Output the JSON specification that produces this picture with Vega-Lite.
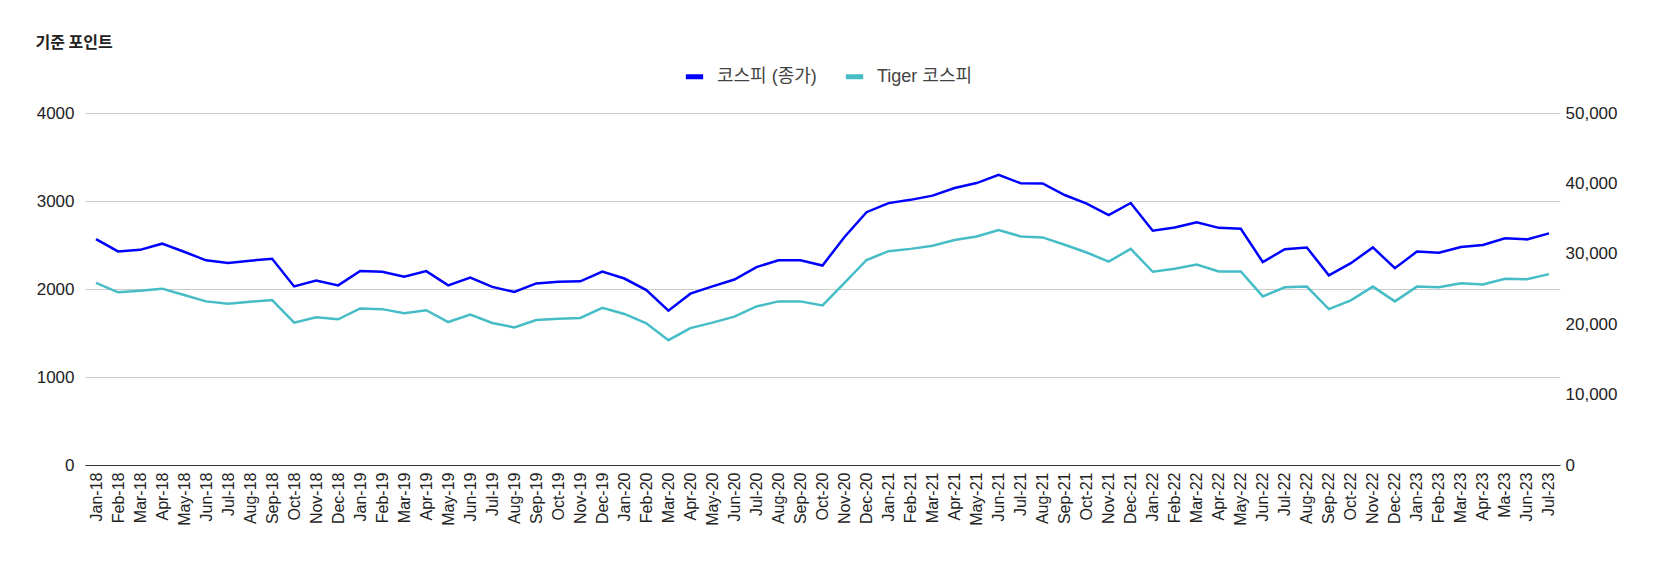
{
  "$schema": "https://vega.github.io/schema/vega-lite/v6.json",
  "width": 1475,
  "height": 352,
  "autosize": {"type": "none"},
  "padding": {"left": 85, "top": 113, "right": 98, "bottom": 106},
  "background": "white",
  "config": {
    "view": {"stroke": null},
    "font": "Liberation Sans, Arial, Noto Sans CJK KR"
  },
  "data": {
    "values": [
      {"month": "Jan-18", "kospi": 2566, "tiger": 25870},
      {"month": "Feb-18", "kospi": 2427, "tiger": 24530},
      {"month": "Mar-18", "kospi": 2445, "tiger": 24760},
      {"month": "Apr-18", "kospi": 2515, "tiger": 25050},
      {"month": "May-18", "kospi": 2423, "tiger": 24140},
      {"month": "Jun-18", "kospi": 2326, "tiger": 23240},
      {"month": "Jul-18", "kospi": 2295, "tiger": 22900},
      {"month": "Aug-18", "kospi": 2322, "tiger": 23180},
      {"month": "Sep-18", "kospi": 2343, "tiger": 23430},
      {"month": "Oct-18", "kospi": 2029, "tiger": 20220},
      {"month": "Nov-18", "kospi": 2096, "tiger": 20990},
      {"month": "Dec-18", "kospi": 2041, "tiger": 20700},
      {"month": "Jan-19", "kospi": 2204, "tiger": 22230},
      {"month": "Feb-19", "kospi": 2195, "tiger": 22140},
      {"month": "Mar-19", "kospi": 2140, "tiger": 21560},
      {"month": "Apr-19", "kospi": 2203, "tiger": 21990},
      {"month": "May-19", "kospi": 2041, "tiger": 20310},
      {"month": "Jun-19", "kospi": 2130, "tiger": 21370},
      {"month": "Jul-19", "kospi": 2024, "tiger": 20170},
      {"month": "Aug-19", "kospi": 1967, "tiger": 19550},
      {"month": "Sep-19", "kospi": 2063, "tiger": 20600},
      {"month": "Oct-19", "kospi": 2083, "tiger": 20790},
      {"month": "Nov-19", "kospi": 2087, "tiger": 20890},
      {"month": "Dec-19", "kospi": 2197, "tiger": 22330},
      {"month": "Jan-20", "kospi": 2119, "tiger": 21460},
      {"month": "Feb-20", "kospi": 1987, "tiger": 20120},
      {"month": "Mar-20", "kospi": 1754, "tiger": 17730},
      {"month": "Apr-20", "kospi": 1947, "tiger": 19450},
      {"month": "May-20", "kospi": 2030, "tiger": 20220},
      {"month": "Jun-20", "kospi": 2108, "tiger": 21080},
      {"month": "Jul-20", "kospi": 2249, "tiger": 22520},
      {"month": "Aug-20", "kospi": 2326, "tiger": 23240},
      {"month": "Sep-20", "kospi": 2327, "tiger": 23240},
      {"month": "Oct-20", "kospi": 2267, "tiger": 22660},
      {"month": "Nov-20", "kospi": 2591, "tiger": 25870},
      {"month": "Dec-20", "kospi": 2873, "tiger": 29120},
      {"month": "Jan-21", "kospi": 2976, "tiger": 30370},
      {"month": "Feb-21", "kospi": 3013, "tiger": 30700},
      {"month": "Mar-21", "kospi": 3061, "tiger": 31140},
      {"month": "Apr-21", "kospi": 3148, "tiger": 31950},
      {"month": "May-21", "kospi": 3204, "tiger": 32470},
      {"month": "Jun-21", "kospi": 3297, "tiger": 33390},
      {"month": "Jul-21", "kospi": 3202, "tiger": 32470},
      {"month": "Aug-21", "kospi": 3199, "tiger": 32330},
      {"month": "Sep-21", "kospi": 3068, "tiger": 31280},
      {"month": "Oct-21", "kospi": 2970, "tiger": 30180},
      {"month": "Nov-21", "kospi": 2839, "tiger": 28890},
      {"month": "Dec-21", "kospi": 2977, "tiger": 30700},
      {"month": "Jan-22", "kospi": 2663, "tiger": 27450},
      {"month": "Feb-22", "kospi": 2699, "tiger": 27880},
      {"month": "Mar-22", "kospi": 2757, "tiger": 28460},
      {"month": "Apr-22", "kospi": 2695, "tiger": 27500},
      {"month": "May-22", "kospi": 2685, "tiger": 27500},
      {"month": "Jun-22", "kospi": 2306, "tiger": 23950},
      {"month": "Jul-22", "kospi": 2452, "tiger": 25250},
      {"month": "Aug-22", "kospi": 2472, "tiger": 25340},
      {"month": "Sep-22", "kospi": 2155, "tiger": 22140},
      {"month": "Oct-22", "kospi": 2293, "tiger": 23380},
      {"month": "Nov-22", "kospi": 2473, "tiger": 25340},
      {"month": "Dec-22", "kospi": 2236, "tiger": 23240},
      {"month": "Jan-23", "kospi": 2425, "tiger": 25340},
      {"month": "Feb-23", "kospi": 2413, "tiger": 25250},
      {"month": "Mar-23", "kospi": 2477, "tiger": 25820},
      {"month": "Apr-23", "kospi": 2501, "tiger": 25630},
      {"month": "Ma-23", "kospi": 2577, "tiger": 26440},
      {"month": "Jun-23", "kospi": 2564, "tiger": 26390},
      {"month": "Jul-23", "kospi": 2632, "tiger": 27110}
    ]
  },
  "encoding": {
    "x": {
      "field": "month",
      "type": "ordinal",
      "sort": null,
      "scale": {"type": "point", "padding": 0.5},
      "axis": {
        "title": null,
        "labelAngle": -90,
        "labelFontSize": 16,
        "labelColor": "#222222",
        "labelPadding": 7,
        "labelOverlap": false,
        "ticks": false,
        "grid": false,
        "domain": true,
        "domainColor": "#333333",
        "domainWidth": 1
      }
    }
  },
  "layer": [
    {
      "mark": {"type": "line", "strokeWidth": 2.5},
      "encoding": {
        "y": {
          "field": "kospi",
          "type": "quantitative",
          "scale": {"domain": [0, 4000], "nice": false},
          "axis": {
            "title": "기준 포인트",
            "titleAngle": 0,
            "titleX": -50,
            "titleY": -71,
            "titleAlign": "left",
            "titleBaseline": "middle",
            "titleFontSize": 16,
            "titleFontWeight": "bold",
            "titleColor": "#222222",
            "titleFont": "Noto Sans CJK KR",
            "values": [0, 1000, 2000, 3000, 4000],
            "format": "d",
            "labelFontSize": 17,
            "labelColor": "#222222",
            "labelPadding": 11,
            "ticks": false,
            "domain": false,
            "grid": true,
            "gridColor": "#cccccc",
            "gridWidth": 1
          }
        },
        "color": {
          "datum": "코스피 (종가)",
          "type": "nominal",
          "scale": {"domain": ["코스피 (종가)", "Tiger 코스피"], "range": ["#0000FF", "#46BDC6"]},
          "legend": {
            "title": null,
            "orient": "none",
            "direction": "horizontal",
            "legendX": 598,
            "legendY": -48,
            "symbolType": "stroke",
            "symbolStrokeWidth": 5,
            "symbolSize": 300,
            "labelFontSize": 18,
            "labelColor": "#444444",
            "labelOffset": 11,
            "columnPadding": 18
          }
        }
      }
    },
    {
      "mark": {"type": "line", "strokeWidth": 2.5},
      "encoding": {
        "y": {
          "field": "tiger",
          "type": "quantitative",
          "scale": {"domain": [0, 50000], "nice": false},
          "axis": {
            "orient": "right",
            "title": null,
            "values": [0, 10000, 20000, 30000, 40000, 50000],
            "format": ",.0f",
            "labelFontSize": 17,
            "labelColor": "#222222",
            "labelPadding": 5,
            "ticks": false,
            "domain": false,
            "grid": false
          }
        },
        "color": {"datum": "Tiger 코스피", "type": "nominal"}
      }
    }
  ],
  "resolve": {"scale": {"y": "independent"}}
}
